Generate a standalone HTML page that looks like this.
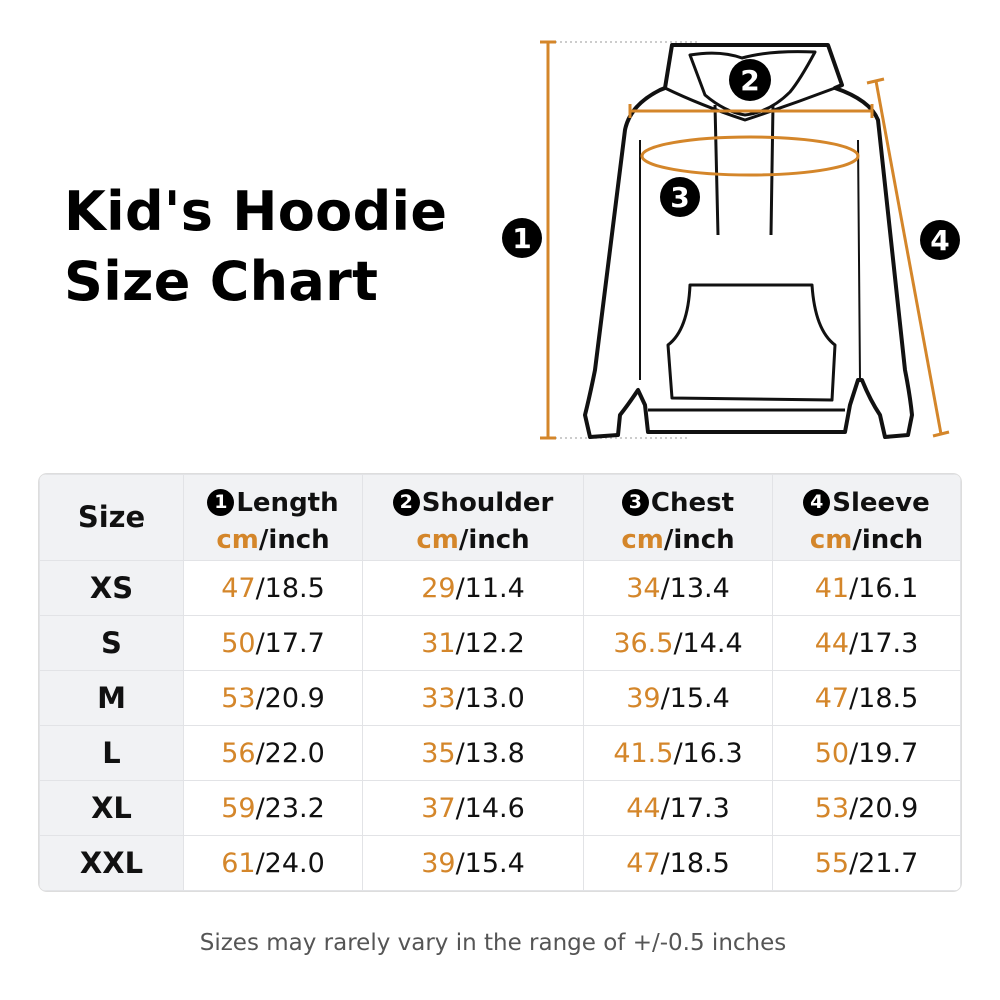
<!DOCTYPE html>
<html><head><meta charset="utf-8"><style>
body{margin:0;width:1000px;height:1000px;background:#fff;position:relative;font-family:"DejaVu Sans","Liberation Sans",sans-serif;overflow:hidden}
.t{position:absolute;left:64px;font-weight:bold;font-size:54px;color:#000;letter-spacing:0.3px}
table{position:absolute;left:39px;top:474px;width:922px;border-collapse:collapse;border-radius:8px;overflow:hidden;box-shadow:0 0 0 1px #ddd}
td{border:1px solid #e2e3e6;text-align:center;font-size:27px;color:#111;padding:0;height:54px}
tr.h td{background:#f1f2f4;height:86px;font-weight:bold;font-size:26px;line-height:37px;padding-top:8px;box-sizing:border-box}
td.s{background:#f1f2f4;font-weight:bold;font-size:29px}
.o{color:#d4862a}
.c{display:inline-block;width:27px;height:27px;border-radius:50%;background:#000;color:#fff;font-size:19px;line-height:27px;text-align:center;vertical-align:3px;margin-right:2px}
.f{position:absolute;top:930px;width:1000px;left:-7px;text-align:center;font-size:23px;color:#555}
</style></head><body>
<div class="t" style="top:180px">Kid's Hoodie</div>
<div class="t" style="top:250px">Size Chart</div>
<svg width="1000" height="460" style="position:absolute;left:0;top:0" fill="none">
<g stroke="#bbb" stroke-width="1.5" stroke-dasharray="2 3"><line x1="555" y1="42" x2="700" y2="42"/><line x1="555" y1="438" x2="690" y2="438"/></g>
<g stroke="#111" stroke-width="4" stroke-linejoin="round">
<path d="M672 45 L828 45 L842 85 L835 88 Q870 100 878 120 L905 370 Q910 395 912 415 L908 435 L885 437 L880 415 Q870 400 862 380 L858 380 L850 405 L845 432 L648 432 L645 405 L638 390 Q628 405 620 415 L618 435 L590 437 L585 415 Q590 395 595 370 L625 130 Q630 105 660 90 L665 88 Z"/>
<path d="M690 55 Q720 50 742 58 Q770 50 815 52 Q800 80 790 92 Q770 112 745 115 Q725 112 705 95 Z" stroke-width="3"/>
<path d="M665 88 Q700 105 745 120 Q790 105 835 88" stroke-width="3"/>
<path d="M715 105 L718 235 M773 105 L771 235" stroke-width="3"/>
<path d="M690 285 L812 285 Q815 330 835 345 L832 400 L672 398 L668 345 Q688 330 690 285 Z" stroke-width="3"/>
<path d="M648 410 L845 410" stroke-width="3"/>
<path d="M640 380 L640 140 M860 380 L858 140" stroke-width="2"/>
</g>
<g stroke="#d4862a" stroke-width="3">
<line x1="548" y1="42" x2="548" y2="438"/><line x1="540" y1="42" x2="556" y2="42"/><line x1="540" y1="438" x2="556" y2="438"/>
<line x1="630" y1="111" x2="872" y2="111"/><line x1="630" y1="104" x2="630" y2="118"/><line x1="872" y1="104" x2="872" y2="118"/>
<ellipse cx="750" cy="156" rx="108" ry="19"/>
<line x1="876" y1="81" x2="941" y2="434"/><line x1="867" y1="83" x2="884" y2="79"/><line x1="933" y1="436" x2="949" y2="432"/>
</g>
<g fill="#000"><circle cx="522" cy="238" r="20"/><circle cx="750" cy="80" r="21"/><circle cx="680" cy="197" r="20"/><circle cx="940" cy="240" r="20"/></g>
<g fill="#fff" font-family="DejaVu Sans" font-weight="bold" font-size="28" text-anchor="middle"><text x="522" y="248">1</text><text x="750" y="90">2</text><text x="680" y="207">3</text><text x="940" y="250">4</text></g>
</svg>
<table>
<tr class="h"><td style="width:144px;font-size:29px;padding-top:0">Size</td><td style="width:179px"><span class="c">1</span>Length<br><span class="o">cm</span>/inch</td><td style="width:221px"><span class="c">2</span>Shoulder<br><span class="o">cm</span>/inch</td><td style="width:189px"><span class="c">3</span>Chest<br><span class="o">cm</span>/inch</td><td><span class="c">4</span>Sleeve<br><span class="o">cm</span>/inch</td></tr>
<tr><td class="s">XS</td><td><span class="o">47</span>/18.5</td><td><span class="o">29</span>/11.4</td><td><span class="o">34</span>/13.4</td><td><span class="o">41</span>/16.1</td></tr>
<tr><td class="s">S</td><td><span class="o">50</span>/17.7</td><td><span class="o">31</span>/12.2</td><td><span class="o">36.5</span>/14.4</td><td><span class="o">44</span>/17.3</td></tr>
<tr><td class="s">M</td><td><span class="o">53</span>/20.9</td><td><span class="o">33</span>/13.0</td><td><span class="o">39</span>/15.4</td><td><span class="o">47</span>/18.5</td></tr>
<tr><td class="s">L</td><td><span class="o">56</span>/22.0</td><td><span class="o">35</span>/13.8</td><td><span class="o">41.5</span>/16.3</td><td><span class="o">50</span>/19.7</td></tr>
<tr><td class="s">XL</td><td><span class="o">59</span>/23.2</td><td><span class="o">37</span>/14.6</td><td><span class="o">44</span>/17.3</td><td><span class="o">53</span>/20.9</td></tr>
<tr><td class="s">XXL</td><td><span class="o">61</span>/24.0</td><td><span class="o">39</span>/15.4</td><td><span class="o">47</span>/18.5</td><td><span class="o">55</span>/21.7</td></tr>
</table>
<div class="f">Sizes may rarely vary in the range of +/-0.5 inches</div>
</body></html>
